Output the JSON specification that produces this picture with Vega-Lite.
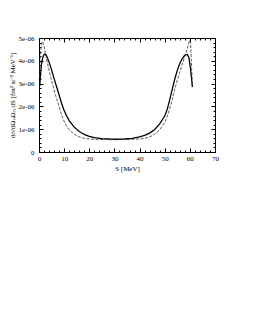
{
  "$schema": "https://vega.github.io/schema/vega-lite/v6.json",
  "autosize": "none",
  "width": 176,
  "height": 114,
  "padding": {"left": 39, "top": 38, "right": 38, "bottom": 175},
  "background": "white",
  "config": {
    "view": {"stroke": "black", "strokeWidth": 1},
    "font": "Liberation Serif",
    "axis": {
      "labelFont": "Liberation Serif",
      "titleFont": "Liberation Serif",
      "labelFontSize": 7,
      "titleFontSize": 7,
      "titleFontWeight": "normal",
      "labelColor": "black",
      "titleColor": "black",
      "tickColor": "black",
      "domainColor": "black",
      "grid": false,
      "labelOverlap": false,
      "labelFlush": false
    }
  },
  "datasets": {
    "curves": [
      {"S": 0.3, "v": 2.9e-6, "c": "solid"},
      {"S": 0.6, "v": 3.4e-6, "c": "solid"},
      {"S": 1.0, "v": 3.85e-6, "c": "solid"},
      {"S": 1.5, "v": 4.15e-6, "c": "solid"},
      {"S": 2.0, "v": 4.28e-6, "c": "solid"},
      {"S": 2.5, "v": 4.3e-6, "c": "solid"},
      {"S": 3.0, "v": 4.22e-6, "c": "solid"},
      {"S": 4.0, "v": 3.95e-6, "c": "solid"},
      {"S": 5.0, "v": 3.6e-6, "c": "solid"},
      {"S": 6.0, "v": 3.22e-6, "c": "solid"},
      {"S": 7.0, "v": 2.86e-6, "c": "solid"},
      {"S": 8.0, "v": 2.5e-6, "c": "solid"},
      {"S": 9.0, "v": 2.13e-6, "c": "solid"},
      {"S": 10.0, "v": 1.82e-6, "c": "solid"},
      {"S": 11.0, "v": 1.58e-6, "c": "solid"},
      {"S": 12.0, "v": 1.38e-6, "c": "solid"},
      {"S": 14.0, "v": 1.09e-6, "c": "solid"},
      {"S": 16.0, "v": 0.9e-6, "c": "solid"},
      {"S": 18.0, "v": 0.77e-6, "c": "solid"},
      {"S": 20.0, "v": 0.69e-6, "c": "solid"},
      {"S": 22.0, "v": 0.63e-6, "c": "solid"},
      {"S": 25.0, "v": 0.59e-6, "c": "solid"},
      {"S": 28.0, "v": 0.57e-6, "c": "solid"},
      {"S": 31.0, "v": 0.56e-6, "c": "solid"},
      {"S": 34.0, "v": 0.57e-6, "c": "solid"},
      {"S": 37.0, "v": 0.6e-6, "c": "solid"},
      {"S": 40.0, "v": 0.66e-6, "c": "solid"},
      {"S": 42.0, "v": 0.73e-6, "c": "solid"},
      {"S": 44.0, "v": 0.83e-6, "c": "solid"},
      {"S": 46.0, "v": 0.99e-6, "c": "solid"},
      {"S": 48.0, "v": 1.23e-6, "c": "solid"},
      {"S": 50.0, "v": 1.58e-6, "c": "solid"},
      {"S": 51.0, "v": 1.87e-6, "c": "solid"},
      {"S": 52.0, "v": 2.3e-6, "c": "solid"},
      {"S": 53.0, "v": 2.75e-6, "c": "solid"},
      {"S": 54.0, "v": 3.2e-6, "c": "solid"},
      {"S": 55.0, "v": 3.58e-6, "c": "solid"},
      {"S": 56.0, "v": 3.88e-6, "c": "solid"},
      {"S": 57.0, "v": 4.1e-6, "c": "solid"},
      {"S": 58.0, "v": 4.25e-6, "c": "solid"},
      {"S": 59.0, "v": 4.28e-6, "c": "solid"},
      {"S": 59.6, "v": 4.15e-6, "c": "solid"},
      {"S": 60.2, "v": 3.7e-6, "c": "solid"},
      {"S": 60.6, "v": 3.3e-6, "c": "solid"},
      {"S": 61.0, "v": 2.85e-6, "c": "solid"},
      {"S": 0.2, "v": 3.3e-6, "c": "dashed"},
      {"S": 0.5, "v": 4.1e-6, "c": "dashed"},
      {"S": 0.8, "v": 4.6e-6, "c": "dashed"},
      {"S": 1.2, "v": 4.85e-6, "c": "dashed"},
      {"S": 1.6, "v": 4.8e-6, "c": "dashed"},
      {"S": 2.0, "v": 4.62e-6, "c": "dashed"},
      {"S": 2.5, "v": 4.35e-6, "c": "dashed"},
      {"S": 3.5, "v": 3.82e-6, "c": "dashed"},
      {"S": 4.5, "v": 3.35e-6, "c": "dashed"},
      {"S": 5.5, "v": 2.93e-6, "c": "dashed"},
      {"S": 6.5, "v": 2.52e-6, "c": "dashed"},
      {"S": 7.5, "v": 2.18e-6, "c": "dashed"},
      {"S": 8.5, "v": 1.8e-6, "c": "dashed"},
      {"S": 9.5, "v": 1.47e-6, "c": "dashed"},
      {"S": 10.5, "v": 1.22e-6, "c": "dashed"},
      {"S": 12.0, "v": 0.97e-6, "c": "dashed"},
      {"S": 14.0, "v": 0.78e-6, "c": "dashed"},
      {"S": 16.0, "v": 0.66e-6, "c": "dashed"},
      {"S": 18.0, "v": 0.6e-6, "c": "dashed"},
      {"S": 20.0, "v": 0.57e-6, "c": "dashed"},
      {"S": 24.0, "v": 0.55e-6, "c": "dashed"},
      {"S": 30.0, "v": 0.54e-6, "c": "dashed"},
      {"S": 36.0, "v": 0.55e-6, "c": "dashed"},
      {"S": 40.0, "v": 0.57e-6, "c": "dashed"},
      {"S": 42.0, "v": 0.6e-6, "c": "dashed"},
      {"S": 44.0, "v": 0.66e-6, "c": "dashed"},
      {"S": 46.0, "v": 0.78e-6, "c": "dashed"},
      {"S": 48.0, "v": 0.97e-6, "c": "dashed"},
      {"S": 50.0, "v": 1.3e-6, "c": "dashed"},
      {"S": 51.0, "v": 1.55e-6, "c": "dashed"},
      {"S": 52.0, "v": 1.9e-6, "c": "dashed"},
      {"S": 53.0, "v": 2.3e-6, "c": "dashed"},
      {"S": 54.0, "v": 2.75e-6, "c": "dashed"},
      {"S": 55.0, "v": 3.15e-6, "c": "dashed"},
      {"S": 56.0, "v": 3.5e-6, "c": "dashed"},
      {"S": 57.0, "v": 3.85e-6, "c": "dashed"},
      {"S": 58.0, "v": 4.2e-6, "c": "dashed"},
      {"S": 59.0, "v": 4.55e-6, "c": "dashed"},
      {"S": 59.6, "v": 4.8e-6, "c": "dashed"},
      {"S": 60.0, "v": 4.9e-6, "c": "dashed"},
      {"S": 60.3, "v": 4.7e-6, "c": "dashed"},
      {"S": 60.6, "v": 4.0e-6, "c": "dashed"},
      {"S": 61.0, "v": 2.9e-6, "c": "dashed"}
    ]
  },
  "data": {"name": "curves"},
  "layer": [
    {
      "transform": [{"filter": "datum.c === 'solid'"}],
      "mark": {"type": "line", "color": "black", "strokeWidth": 1.3, "clip": true},
      "encoding": {
        "x": {
          "field": "S", "type": "quantitative",
          "scale": {"domain": [0, 70], "nice": false, "zero": false},
          "axis": {
            "orient": "bottom",
            "title": "S [MeV]",
            "titlePadding": 1,
            "values": [0,2,4,6,8,10,12,14,16,18,20,22,24,26,28,30,32,34,36,38,40,42,44,46,48,50,52,54,56,58,60,62,64,66,68,70],
            "labelExpr": "datum.value % 10 === 0 ? datum.label : ''",
            "tickSize": {"condition": {"test": "datum.value % 10 === 0", "value": -4}, "value": -2},
            "labelPadding": 6
          }
        },
        "y": {
          "field": "v", "type": "quantitative",
          "scale": {"domain": [0, 5e-6], "nice": false, "zero": true},
          "axis": {
            "orient": "left",
            "title": "dσ/dΩₙΩₙ dS [fm² sr⁻² MeV⁻¹]",
            "titlePadding": 3,
            "values": [0,2e-7,4e-7,6e-7,8e-7,1e-6,1.2e-6,1.4e-6,1.6e-6,1.8e-6,2e-6,2.2e-6,2.4e-6,2.6e-6,2.8e-6,3e-6,3.2e-6,3.4e-6,3.6e-6,3.8e-6,4e-6,4.2e-6,4.4e-6,4.6e-6,4.8e-6,5e-6],
            "labelExpr": "datum.value === 0 ? '0' : (abs(datum.value*1e6 - round(datum.value*1e6)) < 1e-6 ? round(datum.value*1e6) + 'e-06' : '')",
            "tickSize": {"condition": {"test": "abs(datum.value*1e6 - round(datum.value*1e6)) < 1e-6", "value": -4}, "value": -2},
            "labelPadding": 9
          }
        }
      }
    },
    {
      "transform": [{"filter": "datum.c === 'dashed'"}],
      "mark": {"type": "line", "color": "#333333", "strokeWidth": 0.8, "strokeDash": [3, 1.5], "clip": true},
      "encoding": {
        "x": {
          "field": "S", "type": "quantitative",
          "axis": {
            "orient": "top",
            "title": null,
            "labels": false,
            "domain": false,
            "values": [0,2,4,6,8,10,12,14,16,18,20,22,24,26,28,30,32,34,36,38,40,42,44,46,48,50,52,54,56,58,60,62,64,66,68,70],
            "tickSize": {"condition": {"test": "datum.value % 10 === 0", "value": -4}, "value": -2}
          }
        },
        "y": {
          "field": "v", "type": "quantitative",
          "axis": {
            "orient": "right",
            "title": null,
            "labels": false,
            "domain": false,
            "values": [0,2e-7,4e-7,6e-7,8e-7,1e-6,1.2e-6,1.4e-6,1.6e-6,1.8e-6,2e-6,2.2e-6,2.4e-6,2.6e-6,2.8e-6,3e-6,3.2e-6,3.4e-6,3.6e-6,3.8e-6,4e-6,4.2e-6,4.4e-6,4.6e-6,4.8e-6,5e-6],
            "tickSize": {"condition": {"test": "abs(datum.value*1e6 - round(datum.value*1e6)) < 1e-6", "value": -4}, "value": -2}
          }
        }
      }
    }
  ],
  "resolve": {"axis": {"x": "independent", "y": "independent"}}
}
